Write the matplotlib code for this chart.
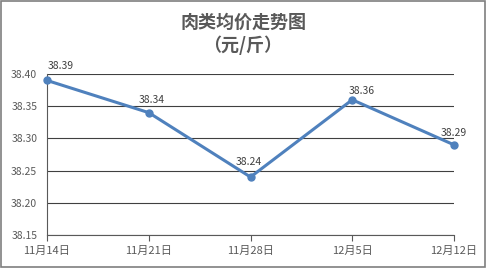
import matplotlib.pyplot as plt
from matplotlib.patches import Rectangle

plt.rcParams["font.family"] = ["Noto Sans CJK SC", "DejaVu Sans"]

dates = ["11月14日", "11月21日", "11月28日", "12月5日", "12月12日"]
prices = [38.39, 38.34, 38.24, 38.36, 38.29]
y_ticks = [38.15, 38.20, 38.25, 38.30, 38.35, 38.40]

text_color = "#595959"
line_color = "#4F81BD"
# label offsets in pixels (dx, dy), as placed in the original
label_offsets = [(14, 14), (3, 13), (-2, 15), (9, 9), (0, 12)]

fig = plt.figure(figsize=(4.86, 2.68), dpi=100)
ax = fig.add_axes([47 / 486, 1 - 235 / 268, (454 - 47) / 486, (235 - 74) / 268])

x = list(range(len(dates)))
ax.plot(x, prices, color=line_color, linewidth=2.2, marker="o", markersize=5,
        zorder=3, clip_on=False)
for xi, v, (dx, dy) in zip(x, prices, label_offsets):
    ax.annotate(f"{v:.2f}", (xi, v), xytext=(dx * 0.72, dy * 0.72),
                textcoords="offset points", ha="center", va="center",
                fontsize=7.5, color="#404040", zorder=4)

ax.set_xlim(0, len(dates) - 1)
ax.set_ylim(38.15, 38.40)
ax.set_xticks(x)
ax.set_xticklabels(dates)
ax.set_yticks(y_ticks)
ax.set_yticklabels([f"{t:.2f}" for t in y_ticks])
ax.tick_params(axis="x", colors="#595959", labelcolor=text_color, labelsize=8,
               length=4, width=0.8, direction="out", pad=4)
ax.tick_params(axis="y", colors="#595959", labelcolor=text_color, labelsize=7.5,
               length=0, pad=7)
ax.grid(axis="y", color="#404040", linewidth=0.8)
ax.set_axisbelow(True)
for side in ["top", "right"]:
    ax.spines[side].set_visible(False)
for side in ["left", "bottom"]:
    ax.spines[side].set_color("#595959")
    ax.spines[side].set_linewidth(0.8)

fig.text(0.5, 1 - 22 / 268, "肉类均价走势图", ha="center", va="center",
         fontsize=13, color=text_color, fontweight="bold")
fig.text(0.5, 1 - 45 / 268, "（元/斤）", ha="center", va="center",
         fontsize=13, color=text_color, fontweight="bold")

fig.patches.append(Rectangle((0.002, 0.004), 0.995, 0.992, transform=fig.transFigure,
                             fill=False, edgecolor="#7f7f7f", linewidth=1.2))

fig.savefig("out.png", dpi=100)
